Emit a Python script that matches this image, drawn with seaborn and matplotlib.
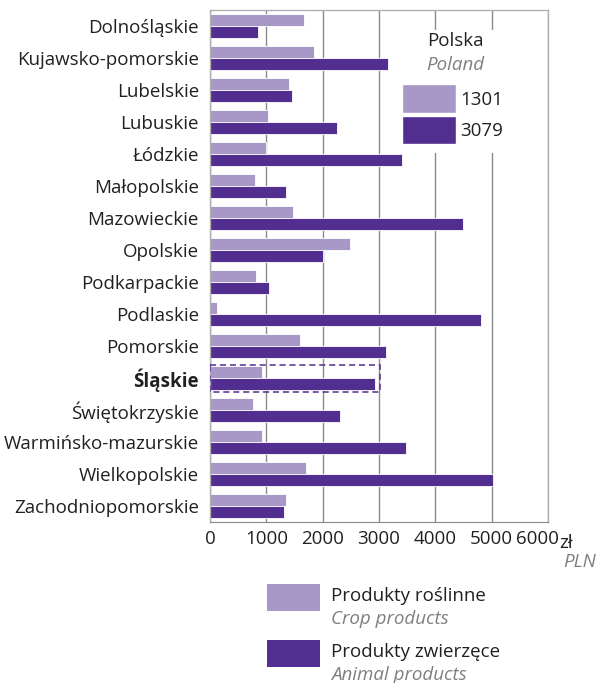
import pandas as pd
import seaborn as sns
import matplotlib.pyplot as plt
import matplotlib.transforms as mtransforms
from matplotlib.patches import Rectangle, Patch

# voivodeships and values (zł per ha)
regions = ["Dolnośląskie", "Kujawsko-pomorskie", "Lubelskie", "Lubuskie", "Łódzkie",
           "Małopolskie", "Mazowieckie", "Opolskie", "Podkarpackie", "Podlaskie",
           "Pomorskie", "Śląskie", "Świętokrzyskie", "Warmińsko-mazurskie",
           "Wielkopolskie", "Zachodniopomorskie"]
crop = [1675, 1852, 1408, 1024, 994, 799, 1473, 2479, 817, 130,
        1598, 917, 757, 917, 1704, 1355]
animal = [852, 3154, 1450, 2260, 3408, 1349, 4485, 2000, 1053, 4811,
          3130, 2923, 2314, 3485, 5030, 1314]
poland_crop = 1301
poland_animal = 3079
xticks = [0, 1000, 2000, 3000, 4000, 5000, 6000]
highlight = "Śląskie"

series_pl = ["Produkty roślinne", "Produkty zwierzęce"]
series_en = ["Crop products", "Animal products"]
colors = ["#a898c8", "#522e91"]
dark = "#231f20"
grey = "#7f7f7f"

df = pd.DataFrame({
    "region": regions * 2,
    "value": crop + animal,
    "series": [series_pl[0]] * len(regions) + [series_pl[1]] * len(regions),
})

sns.set_style("white")
plt.rcParams['font.family'] = ['Open Sans', 'DejaVu Sans']
fs = 13.5

W, H = 614, 683
fig = plt.figure(figsize=(W / 100, H / 100), dpi=100)
ax = fig.add_axes([210 / W, 1 - 522 / H, (548 - 210) / W, (522 - 10) / H])

sns.barplot(data=df, y="region", x="value", hue="series", order=regions,
            hue_order=series_pl, palette=colors, orient="h", width=0.78,
            saturation=1, edgecolor="white", linewidth=0.6, legend=False, ax=ax)

ax.set_xlim(0, 6000)
ax.set_xticks(xticks)
ax.set_xticklabels([str(t) for t in xticks])
ax.set_axisbelow(True)
ax.grid(axis="x", color="#8a8a8a", linewidth=1.0)
ax.grid(axis="y", visible=False)
ax.set_xlabel("")
ax.set_ylabel("")
for s in ["top", "right", "left"]:
    ax.spines[s].set_color("#b0b0b0")
    ax.spines[s].set_linewidth(1.0)
ax.spines["bottom"].set_color("#8a8a8a")
ax.tick_params(axis="x", length=0, pad=6, labelsize=fs, labelcolor=dark)
ax.tick_params(axis="y", length=0, pad=8, labelsize=fs, labelcolor=dark)
for lab in ax.get_yticklabels():
    if lab.get_text() == highlight:
        lab.set_fontweight("bold")
# last tick label moved left to make room for the unit
last = ax.get_xticklabels()[-1]
last.set_transform(last.get_transform() +
                   mtransforms.ScaledTranslation(-11 / 100, 0, fig.dpi_scale_trans))

# dashed frame around the highlighted voivodeship
i = regions.index(highlight)
ax.add_patch(Rectangle((0, i - 0.42), max(crop[i], animal[i]) + 100, 0.86,
                       fill=False, edgecolor=colors[1], linestyle=(0, (4, 2.5)),
                       linewidth=1.1, zorder=4))

# "Polska" box
ax.add_patch(Rectangle((3180, 0.13), 2700, 3.84, facecolor="white",
                       edgecolor="none", zorder=1))
fig.text(455 / W, 1 - 41 / H, "Polska", ha="center", va="center",
         fontsize=fs, color=dark)
fig.text(455 / W, 1 - 65 / H, "Poland", ha="center", va="center",
         fontsize=fs, color=grey, style="italic")
leg = ax.legend(handles=[Patch(facecolor=c) for c in colors],
                labels=[str(poland_crop), str(poland_animal)],
                loc="upper left", bbox_to_anchor=(393 / W, 1 - 75 / H),
                bbox_transform=fig.transFigure, frameon=False, fontsize=fs,
                handlelength=2.85, handleheight=1.95, handletextpad=0.25,
                labelspacing=0.18, borderpad=0, labelcolor=dark)

# unit
fig.text(559 / W, 1 - 543 / H, "zł", ha="left", va="center", fontsize=fs, color=dark)
fig.text(596 / W, 1 - 562 / H, "PLN", ha="right", va="center", fontsize=fs,
         color=grey, style="italic")

# bottom legend
for k, (c, pl, en) in enumerate(zip(colors, series_pl, series_en)):
    y0 = 584 + k * 56
    fig.add_artist(Rectangle((267 / W, 1 - (y0 + 27) / H), 53 / W, 27 / H,
                             facecolor=c, edgecolor="none",
                             transform=fig.transFigure))
    fig.text(331 / W, 1 - (y0 + 12) / H, pl, ha="left", va="center",
             fontsize=fs, color=dark)
    fig.text(331 / W, 1 - (y0 + 35) / H, en, ha="left", va="center",
             fontsize=fs, color=grey, style="italic")

fig.savefig("out.png", dpi=100)
